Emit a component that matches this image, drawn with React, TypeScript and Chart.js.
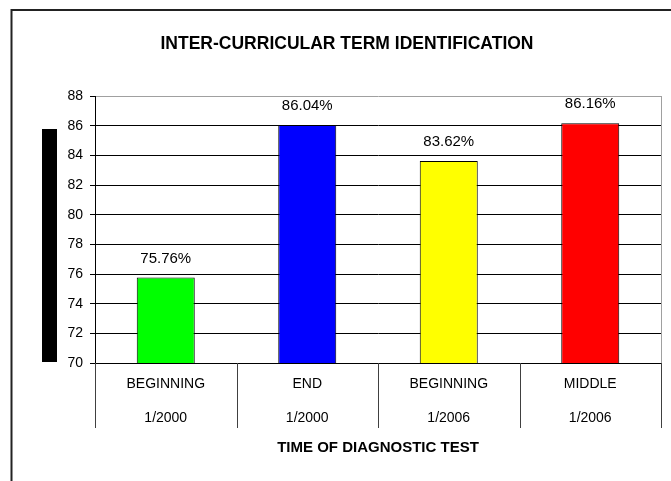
import React, { useEffect, useRef } from "react";
import { Chart, registerables } from "chart.js";

Chart.register(...registerables);

const chartTitle = "INTER-CURRICULAR TERM IDENTIFICATION";
const xAxisTitle = "TIME OF DIAGNOSTIC TEST";
const periods = ["BEGINNING", "END", "BEGINNING", "MIDDLE"];
const dates = ["1/2000", "1/2000", "1/2006", "1/2006"];
const scores = [75.76, 86.04, 83.62, 86.16];
const barColors = ["#00FF00", "#0000FF", "#FFFF00", "#FF0000"];
const yMin = 70;
const yMax = 88;
const yStep = 2;

const FONT = "'Liberation Sans', Arial, Helvetica, sans-serif";

const decorPlugin = {
  id: "decor",
  beforeDraw(chart: any) {
    const ctx = chart.ctx;
    ctx.save();
    ctx.fillStyle = "#ffffff";
    ctx.fillRect(0, 0, chart.width, chart.height);
    // outer frame (top + left visible)
    ctx.strokeStyle = "#222222";
    ctx.lineWidth = 2;
    ctx.beginPath();
    ctx.moveTo(11.5, chart.height + 10);
    ctx.lineTo(11.5, 10);
    ctx.lineTo(chart.width + 10, 10);
    ctx.stroke();
    // black vertical block on the left
    ctx.fillStyle = "#000000";
    ctx.fillRect(42, 129, 15, 233);
    // chart title
    ctx.fillStyle = "#000000";
    ctx.font = `bold 17.5px ${FONT}`;
    ctx.textAlign = "center";
    ctx.textBaseline = "middle";
    ctx.fillText(chartTitle, 347, 44);
    ctx.restore();
  },
  afterDraw(chart: any) {
    const ctx = chart.ctx;
    const { left, right, top, bottom } = chart.chartArea;
    ctx.save();
    // right plot border
    ctx.strokeStyle = "#a0a0a0";
    ctx.lineWidth = 1;
    ctx.beginPath();
    ctx.moveTo(Math.round(right) + 0.5, top);
    ctx.lineTo(Math.round(right) + 0.5, bottom);
    ctx.stroke();
    // category separators
    ctx.strokeStyle = "#404040";
    const n = periods.length;
    const w = (right - left) / n;
    for (let i = 0; i <= n; i++) {
      const x = Math.round(left + i * w) + 0.5;
      ctx.beginPath();
      ctx.moveTo(x, bottom);
      ctx.lineTo(x, 428);
      ctx.stroke();
    }
    // data labels
    const meta = chart.getDatasetMeta(0);
    ctx.fillStyle = "#000000";
    ctx.font = `15px ${FONT}`;
    ctx.textAlign = "center";
    ctx.textBaseline = "middle";
    meta.data.forEach((bar: any, i: number) => {
      ctx.fillText(scores[i].toFixed(2) + "%", bar.x, bar.y - 19);
    });
    ctx.restore();
  },
};

export default function App() {
  const canvasRef = useRef<HTMLCanvasElement | null>(null);

  useEffect(() => {
    if (!canvasRef.current) return;
    const labels = periods.map((p, i) => [p, dates[i]]);
    const chart = new Chart(canvasRef.current, {
      type: "bar",
      data: {
        labels,
        datasets: [
          {
            data: scores,
            backgroundColor: barColors,
            borderColor: "#000000",
            borderWidth: 1,
            barPercentage: 0.41,
            categoryPercentage: 1,
          },
        ],
      },
      options: {
        responsive: false,
        animation: false,
        layout: { padding: { top: 96, right: 10, left: 0, bottom: 0 } },
        plugins: {
          legend: { display: false },
          title: { display: false },
          tooltip: { enabled: false },
        },
        scales: {
          x: {
            afterFit(scale: any) {
              scale.height = 118;
            },
            grid: { display: false },
            border: { display: true, color: "#000000", width: 1 },
            ticks: {
              color: "#000000",
              padding: -4,
              maxRotation: 0,
              autoSkip: false,
              font: { family: FONT, size: 14, lineHeight: "34px" },
            },
            title: {
              display: true,
              text: xAxisTitle,
              color: "#000000",
              font: { family: FONT, size: 15, weight: "bold" },
              padding: { top: 0, bottom: 24 },
            },
          },
          y: {
            min: yMin,
            max: yMax,
            afterFit(scale: any) {
              scale.width = 95;
            },
            ticks: {
              stepSize: yStep,
              color: "#000000",
              padding: 7,
              font: { family: FONT, size: 14 },
            },
            grid: {
              color: (c: any) => (c.tick && c.tick.value === yMax ? "#a0a0a0" : "#000000"),
              tickColor: "#000000",
              tickLength: 5,
              lineWidth: 1,
            },
            border: { display: true, color: "#000000", width: 1 },
          },
        },
      },
      plugins: [decorPlugin],
    } as any);
    return () => chart.destroy();
  }, []);

  return (
    <div style={{ position: "absolute", left: 0, top: 0, width: 671, height: 481 }}>
      <canvas ref={canvasRef} width={671} height={481} style={{ width: 671, height: 481, display: "block" }} />
    </div>
  );
}
